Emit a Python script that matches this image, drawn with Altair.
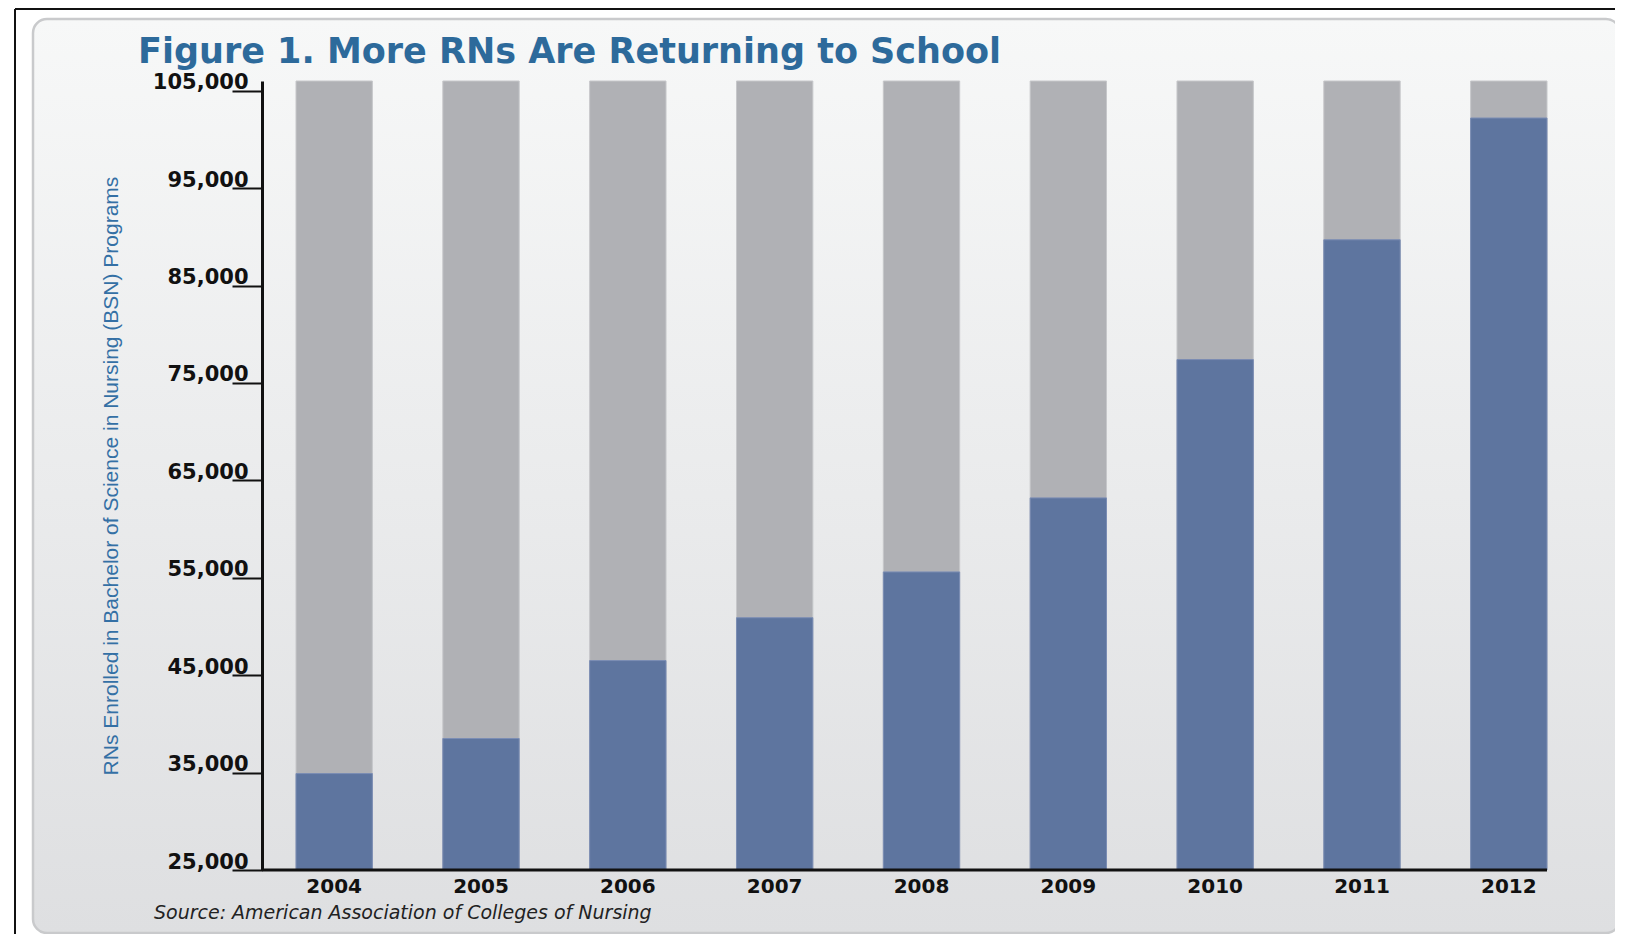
import altair as alt
import pandas as pd

years = ["2004", "2005", "2006", "2007", "2008", "2009", "2010", "2011", "2012"]
rn_enrolled = [34900, 38500, 46500, 50900, 55600, 63200, 77400, 89700, 102200]
scale_top = 106000
scale_bottom = 25000
y_ticks = [25000, 35000, 45000, 55000, 65000, 75000, 85000, 95000, 105000]

title_text = "Figure 1. More RNs Are Returning to School"
y_title_text = "RNs Enrolled in Bachelor of Science in Nursing (BSN) Programs"
source_text = "Source: American Association of Colleges of Nursing"

W, H = 1283, 789

df = pd.DataFrame({
    "year": years,
    "enrolled": rn_enrolled,
    "top": [scale_top] * len(years),
})
one = pd.DataFrame({"k": [0]})

xscale = alt.Scale(domain=years, range=[34, W + 2], paddingInner=0.48, paddingOuter=0)
yscale = alt.Scale(domain=[scale_bottom, scale_top], zero=False, nice=False)

panel = alt.Chart(one).mark_rect(
    cornerRadius=14,
    stroke="#c9cacc",
    strokeWidth=2.5,
    fill=alt.Gradient(
        gradient="linear",
        x1=0, y1=0, x2=0, y2=1,
        stops=[alt.GradientStop(color="#f7f8f8", offset=0),
               alt.GradientStop(color="#dedfe1", offset=1)],
    ),
).encode(
    x=alt.value(-229), x2=alt.value(1358),
    y=alt.value(-62), y2=alt.value(852),
)

frame_top = alt.Chart(one).mark_rule(color="#111", strokeWidth=2).encode(
    x=alt.value(-247), x2=alt.value(1360), y=alt.value(-72)
)
frame_left = alt.Chart(one).mark_rule(color="#111", strokeWidth=2).encode(
    x=alt.value(-247), y=alt.value(-72), y2=alt.value(860)
)

gray = alt.Chart(df).mark_bar(color="#b0b1b5", stroke="#c6c7ca", strokeWidth=1).encode(
    x=alt.X("year:N", scale=xscale, title=None,
            axis=alt.Axis(labelFont="DejaVu Sans", labelFontWeight="bold",
                          labelFontSize=20, labelColor="#111", labelAngle=0,
                          labelPadding=6, ticks=False, domain=False, zindex=1)),
    y=alt.Y("top:Q", scale=yscale, title=None,
            axis=alt.Axis(values=y_ticks, format=",d", labelFont="DejaVu Sans",
                          labelFontWeight="bold", labelFontSize=21, labelColor="#111",
                          labelBaseline="alphabetic", labelOffset=-2,
                          tickSize=30, tickWidth=2, tickColor="#111",
                          labelPadding=-16, domainColor="#111", domainWidth=3,
                          grid=False, zindex=1)),
    y2=alt.datum(scale_bottom),
)

blue = alt.Chart(df).mark_bar(color="#5e759f", stroke="#7b8db4", strokeWidth=1).encode(
    x=alt.X("year:N", scale=xscale),
    y=alt.Y("enrolled:Q", scale=yscale),
    y2=alt.datum(scale_bottom),
)

baseline = alt.Chart(one).mark_rule(color="#111", strokeWidth=3).encode(
    x=alt.value(0), x2=alt.value(W + 2), y=alt.value(H)
)

title = alt.Chart(pd.DataFrame({"t": [title_text]})).mark_text(
    font="DejaVu Sans", fontWeight="bold", fontSize=35, color="#2d6a9b",
    align="left", baseline="middle",
).encode(x=alt.value(-124), y=alt.value(-29), text="t:N")

ytitle = alt.Chart(pd.DataFrame({"t": [y_title_text]})).mark_text(
    font="Liberation Sans", fontSize=21, color="#3470a5",
    align="center", baseline="middle", angle=270,
).encode(x=alt.value(-150), y=alt.value(395), text="t:N")

source = alt.Chart(pd.DataFrame({"t": [source_text]})).mark_text(
    font="DejaVu Sans", fontStyle="italic", fontSize=19, color="#222",
    align="left", baseline="middle",
).encode(x=alt.value(-108), y=alt.value(832), text="t:N")

chart = alt.layer(panel, frame_top, frame_left, gray, blue, baseline, title, ytitle, source).properties(
    width=W, height=H,
    autosize=alt.AutoSizeParams(type="none"),
    padding={"left": 254, "top": 73, "right": 70, "bottom": 64},
    background="white",
).configure_view(strokeWidth=0)

chart.save("out.html", embed_options={"renderer": "svg", "actions": False})
